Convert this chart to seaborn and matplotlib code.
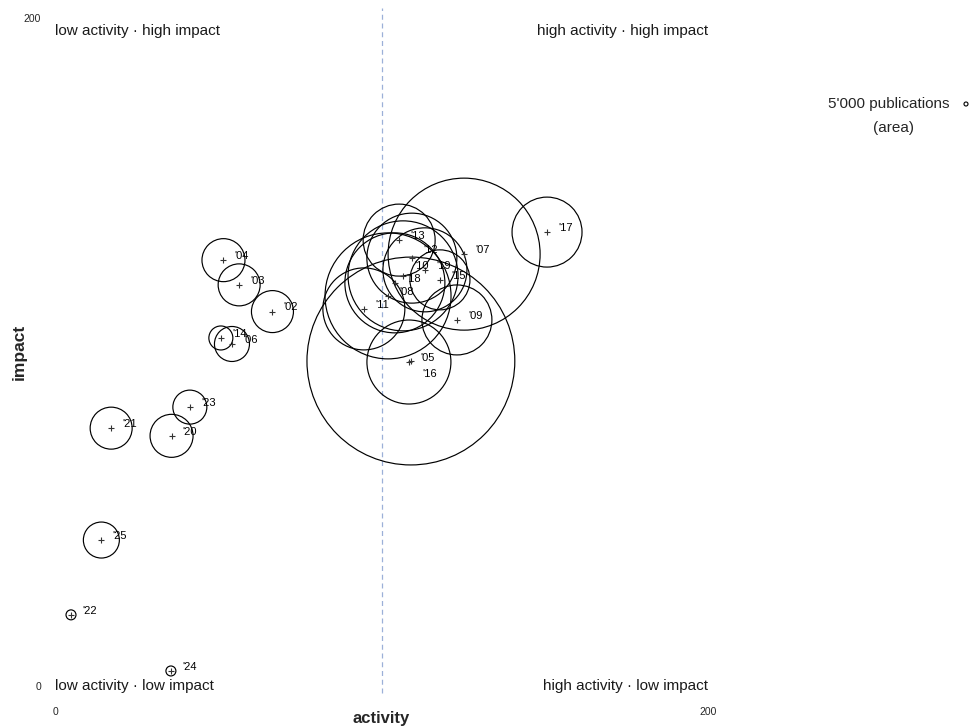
import numpy as np
import pandas as pd
import matplotlib
matplotlib.use("Agg")
import matplotlib.pyplot as plt
import seaborn as sns

# Activity / impact portfolio by year; circle area ~ number of publications
years = ["'02", "'03", "'04", "'05", "'06", "'07", "'08", "'09", "'10", "'11",
         "'12", "'13", "'14", "'15", "'16", "'17", "'18", "'19", "'20", "'21",
         "'22", "'23", "'24", "'25"]
activity = [66.6, 56.4, 51.6, 108.4, 54.2, 125.3, 102.0, 123.1, 106.6, 94.6,
            109.3, 105.4, 50.8, 117.9, 109.0, 150.7, 104.1, 113.3, 35.7, 17.2,
            4.9, 41.3, 35.5, 14.2]
impact = [112.1, 120.1, 127.5, 97.0, 102.4, 129.3, 116.8, 109.6, 122.8, 112.9,
          128.1, 133.5, 104.2, 121.6, 97.3, 135.9, 120.7, 124.6, 74.9, 77.2,
          21.3, 83.5, 4.5, 43.7]
publications = [551000, 551000, 578000, 2205000, 383000, 7220000, 4960000, 1530000,
                3780000, 2100000, 2530000, 1620000, 180000, 1125000, 13500000,
                1530000, 3125000, 2205000, 578000, 551000, 31000, 361000, 31000,
                405000]

quadrant_labels = ["low activity · high impact", "high activity · high impact",
                   "low activity · low impact", "high activity · low impact"]
axis_ticks = [0, 200]
reference_pubs = 5000

sns.set_theme(style="white")
plt.rcParams["font.family"] = ["Liberation Sans", "DejaVu Sans"]

DPI = 100
W, H = 971, 727
fig = plt.figure(figsize=(W / DPI, H / DPI), dpi=DPI)
ax = fig.add_axes([55 / W, 41 / H, 653 / W, 668 / H])

df = pd.DataFrame({"year": years, "activity": activity, "impact": impact,
                   "publications": publications})

# reference bubble: 5'000 publications drawn with a 2 px radius
REF_RADIUS_PX = 2.0


def area_pt2(p):
    r_px = REF_RADIUS_PX * np.sqrt(p / reference_pubs)
    return (2 * r_px * 72 / DPI) ** 2


pmax = df["publications"].max()
sns.scatterplot(data=df, x="activity", y="impact", size="publications",
                sizes=(0, area_pt2(pmax)), size_norm=(0, pmax),
                marker="o", legend=False, ax=ax, zorder=3)
bubbles = ax.collections[-1]
bubbles.set_facecolor("none")
bubbles.set_edgecolor("black")
bubbles.set_linewidth(0.85)

sns.scatterplot(data=df, x="activity", y="impact", marker="+", s=24,
                color="#333333", linewidth=0.8, legend=False, ax=ax, zorder=4)

# year labels sit just right of each centre mark
offsets = {"'16": (8, -9), "'12": (8, 6), "'10": (8, 7)}
for _, row in df.iterrows():
    ax.annotate(row["year"], (row["activity"], row["impact"]),
                xytext=offsets.get(row["year"], (8, 3)),
                textcoords="offset points", ha="left", va="center",
                fontsize=8, color="black", zorder=5)

# separator between low and high activity
ax.axvline(100, ymin=-0.01, ymax=1.015, color="#9cb0d8", lw=0.9,
           ls=(0, (4, 3)), clip_on=False, zorder=1)

# quadrant captions
qkw = dict(fontsize=11, color="#1a1a1a", va="center")
ax.text(0, 196.0, quadrant_labels[0], ha="left", **qkw)
ax.text(200, 196.0, quadrant_labels[1], ha="right", **qkw)
ax.text(0, 0, quadrant_labels[2], ha="left", **qkw)
ax.text(200, 0, quadrant_labels[3], ha="right", **qkw)

# size key
ax.text((889 - 55) / 653, (686 - 104) / 668, "5'000 publications",
        transform=ax.transAxes, ha="center", va="center", fontsize=11)
ax.text((893 - 55) / 653, (686 - 128) / 668, "(area)",
        transform=ax.transAxes, ha="center", va="center", fontsize=11)
ax.scatter([(966 - 55) / 653], [(686 - 104) / 668], s=area_pt2(reference_pubs),
           transform=ax.transAxes, facecolor="none", edgecolor="black",
           linewidth=0.8, clip_on=False)

ax.set_xlim(0, 200)
ax.set_ylim(0, 200)
ax.set_xticks(axis_ticks)
ax.set_yticks(axis_ticks)
ax.set_xticklabels([str(t) for t in axis_ticks])
ax.set_yticklabels([str(t) for t in axis_ticks])
ax.tick_params(axis="x", length=0, pad=15, labelsize=7.5)
ax.tick_params(axis="y", length=0, pad=10, labelsize=7.5)
for s in ax.spines.values():
    s.set_visible(False)

ax.set_xlabel("activity", fontsize=12, fontweight="bold")
ax.set_ylabel("impact", fontsize=12.5, fontweight="bold")
ax.xaxis.set_label_coords(0.5, (686 - 711) / 668)
ax.yaxis.set_label_coords((27 - 55) / 653, 0.5)

fig.savefig("out.png", dpi=DPI)
